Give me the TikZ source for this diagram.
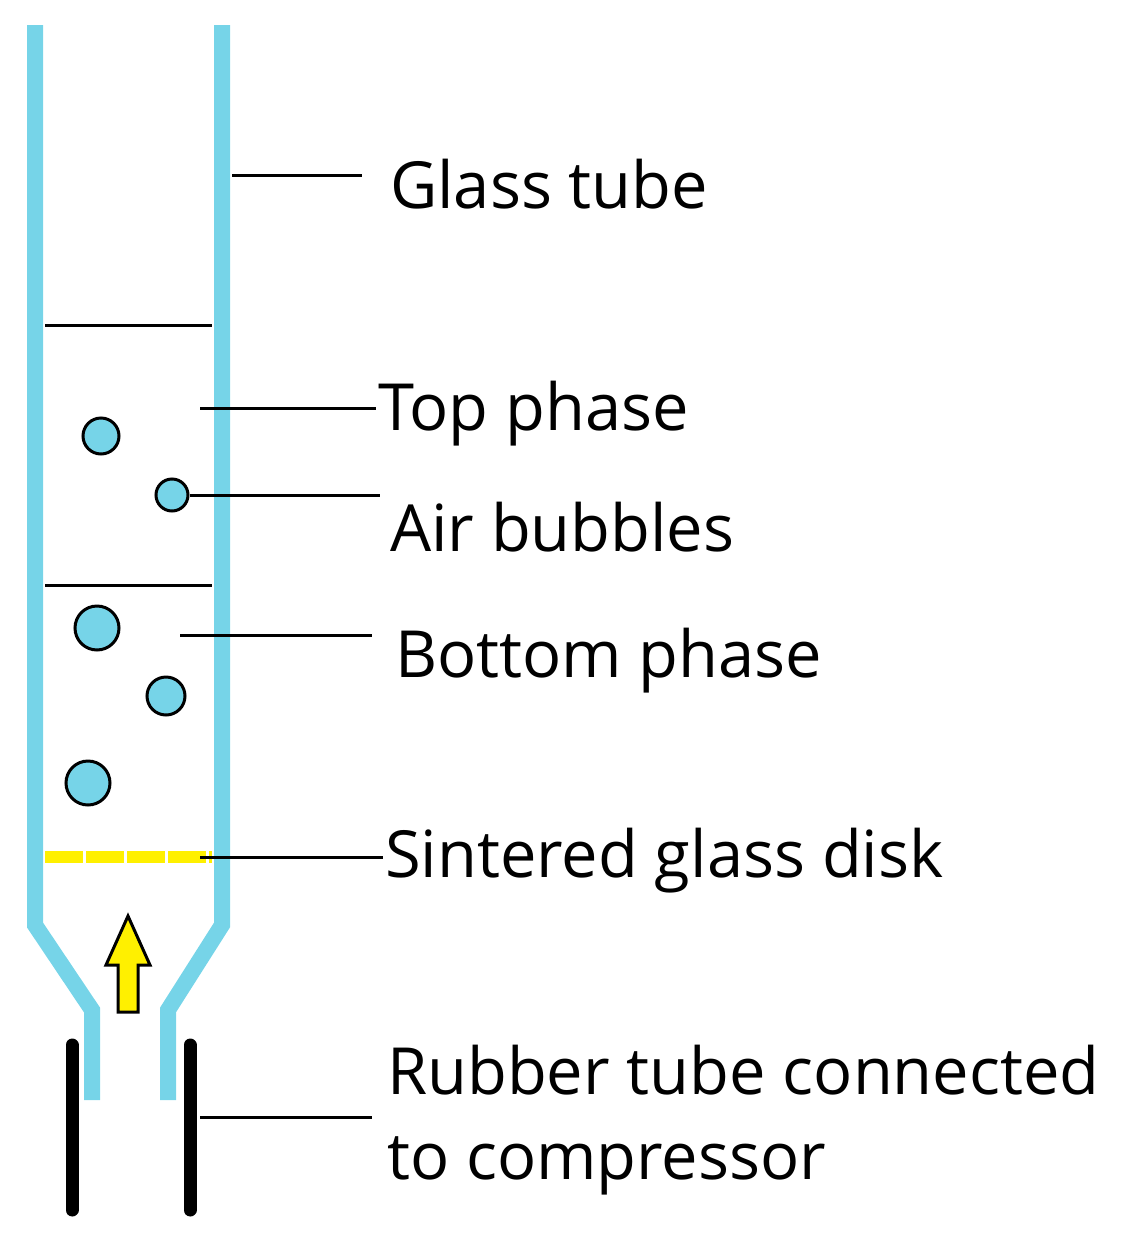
\documentclass[tikz,border=0pt]{standalone}
\usepackage{fontspec}
\setmainfont{Open Sans}
\usetikzlibrary{arrows.meta, positioning}
\definecolor{glass}{RGB}{118,212,232}
\definecolor{disk}{RGB}{255,240,0}

\begin{document}
\begin{tikzpicture}[
    x=0.02cm, y=-0.02cm,
    wall/.style={draw=glass, line width=16*0.02cm, line join=miter},
    leader/.style={draw, line width=3*0.02cm},
    interface/.style={draw, line width=3*0.02cm},
    bubble/.style={circle, draw, fill=glass, line width=3*0.02cm, inner sep=0pt},
    rubber/.style={draw, line width=13*0.02cm, line cap=round},
    label/.style={anchor=west, inner sep=1pt, font=\fontsize{37}{48}\selectfont, align=left}
]
\useasboundingbox (0,0) rectangle (1129,1241);

% glass tube
\draw[wall] (35,25) -- (35,925) -- (92,1010) -- (92,1100);
\draw[wall] (222,25) -- (222,925) -- (168,1010) -- (168,1100);

% phase interfaces
\draw[interface] (45,325) -- (212,325);
\draw[interface] (45,585) -- (212,585);

% bubbles
\node[bubble, minimum size=36*0.02cm] (b1) at (101,436) {};
\node[bubble, minimum size=32*0.02cm] (b2) at (172,495) {};
\node[bubble, minimum size=44*0.02cm] (b3) at (97,628) {};
\node[bubble, minimum size=38*0.02cm] (b4) at (166,696) {};
\node[bubble, minimum size=44*0.02cm] (b5) at (88,783) {};

% sintered glass disk
\draw[disk, line width=12*0.02cm, dash pattern=on 38*0.02cm off 3*0.02cm] (45,857) -- (212,857);

% air flow arrow
\draw[fill=disk, line width=3*0.02cm] (118,1012) -- (118,965) -- (106,965) -- (128,916)
    -- (150,965) -- (138,965) -- (138,1012) -- cycle;

% rubber tube
\draw[rubber] (72,1045) -- (72,1210);
\draw[rubber] (190,1045) -- (190,1210);

% labels
\coordinate (cglass) at (232,175);
\coordinate (ctop) at (200,408);
\coordinate (cdisk) at (200,857);
\coordinate (crubber) at (200,1117);
\coordinate (cbottom) at (180,635);

\node[label] (lglass) at (388,184) {Glass tube};
\node[label] (ltop) at (376,414) {Top phase};
\node[label] (lair) at (388,527) {Air bubbles};
\node[label] (lbottom) at (393,661) {Bottom phase};
\node[label] (ldisk) at (383,861) {Sintered glass disk};
\node[label] (lrubber) at (385,1120) {Rubber tube connected\\to compressor};

\draw[leader] (cglass) -- (362,175);
\draw[leader] (ctop) -- (ltop.west |- ctop);
\draw[leader] (b2.east) -- (380,495);
\draw[leader] (cbottom) -- (372,635);
\draw[leader] (cdisk) -- (ldisk.west |- cdisk);
\draw[leader] (crubber) -- (372,1117);

\end{tikzpicture}
\end{document}
